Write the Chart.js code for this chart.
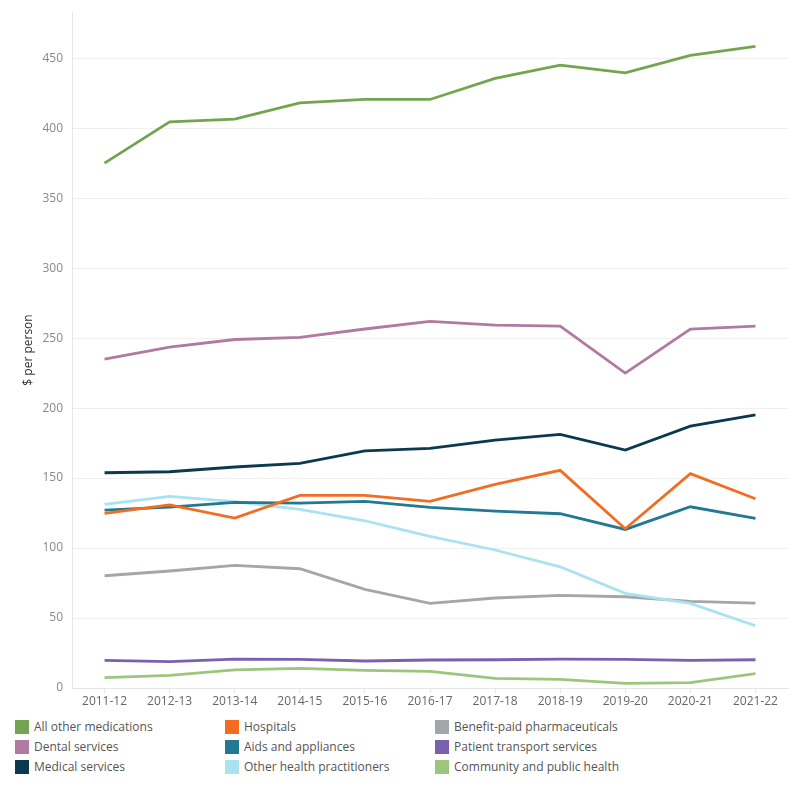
<!DOCTYPE html>
<html>
<head>
<meta charset="utf-8">
<script src="https://cdn.jsdelivr.net/npm/chart.js@4.4.0/dist/chart.umd.min.js"></script>
<style>
  body { margin: 0; background: #fff; font-family: "Open Sans", sans-serif; }
  #wrap { position: relative; width: 800px; height: 800px; }
  #legend { position: absolute; left: 0; top: 720px; width: 800px; }
  .item { position: absolute; height: 14px; font-size: 12px; color: #555; line-height: 14px; white-space: nowrap; }
  .box { display: inline-block; width: 14px; height: 14px; vertical-align: top; margin-right: 5px; }
</style>
</head>
<body>
<div id="wrap">
  <canvas id="chart" width="800" height="712"></canvas>
  <div id="legend"></div>
</div>
<script>
// Données
const years = ['2011-12', '2012-13', '2013-14', '2014-15', '2015-16', '2016-17', '2017-18', '2018-19', '2019-20', '2020-21', '2021-22'];

const allOtherMedications = [375, 404.5, 406.5, 418, 420.5, 420.5, 435.5, 445, 439.5, 452, 458.5];
const dentalServices = [235, 243.5, 249, 250.5, 256.5, 262, 259.3, 258.6, 225, 256.4, 258.6];
const medicalServices = [153.8, 154.5, 157.9, 160.5, 169.5, 171.2, 177.1, 181.2, 170, 187.1, 195.2];
const hospitals = [124.8, 130.9, 121.4, 137.6, 137.6, 133.3, 145.5, 155.5, 113.8, 153.1, 135.2];
const aidsAppliances = [127.1, 129.3, 132.6, 132.1, 133.3, 129, 126.4, 124.5, 113.3, 129.5, 121.2];
const otherHealth = [131.2, 136.9, 133.1, 127.6, 119.5, 108.3, 98.6, 86.6, 67.6, 60.5, 44.5];
const benefitPharma = [80.2, 83.6, 87.6, 85.2, 70.5, 60.5, 64.3, 66.2, 65.2, 61.9, 60.7];
const patientTransport = [19.8, 18.8, 20.7, 20.5, 19.3, 20, 20.2, 20.7, 20.5, 19.8, 20.2];
const communityHealth = [7.4, 9.0, 12.9, 14.0, 12.6, 11.9, 6.9, 6.2, 3.3, 3.8, 10.2];

const yTicks = [0, 50, 100, 150, 200, 250, 300, 350, 400, 450];

// Séries dans l'ordre de la légende (colonne par colonne)
const series = [
    { label: 'All other medications', data: allOtherMedications, color: '#73a550' },
    { label: 'Dental services', data: dentalServices, color: '#b07aa1' },
    { label: 'Medical services', data: medicalServices, color: '#0b3a4f' },
    { label: 'Hospitals', data: hospitals, color: '#f26d21' },
    { label: 'Aids and appliances', data: aidsAppliances, color: '#237892' },
    { label: 'Other health practitioners', data: otherHealth, color: '#a8e3ef' },
    { label: 'Benefit-paid pharmaceuticals', data: benefitPharma, color: '#a3a7aa' },
    { label: 'Patient transport services', data: patientTransport, color: '#7b5fb0' },
    { label: 'Community and public health', data: communityHealth, color: '#9dc67d' }
];

const ctx = document.getElementById('chart').getContext('2d');
const myChart = new Chart(ctx, {
    type: 'line',
    data: {
        labels: years,
        datasets: series.map(s => ({
            label: s.label,
            data: s.data,
            borderColor: s.color,
            backgroundColor: s.color,
            borderWidth: 2.8,
            pointRadius: 0,
            tension: 0,
            fill: false
        }))
    },
    options: {
        responsive: false,
        animation: false,
        layout: { padding: { top: 12, right: 12, left: 0, bottom: 0 } },
        plugins: {
            legend: { display: false },
            tooltip: { enabled: false }
        },
        scales: {
            x: {
                offset: true,
                grid: { drawOnChartArea: false, drawTicks: true, tickLength: 5, color: '#e6e6e6' },
                border: { display: true, color: '#e6e6e6' },
                ticks: { color: '#666', padding: 1, maxRotation: 0, font: { family: 'Open Sans', size: 12 } },
                afterFit: function (scale) { scale.height = 24; }
            },
            y: {
                min: 0,
                max: 483,
                grid: { color: '#efefef', drawTicks: false },
                border: { display: true, color: '#e6e6e6' },
                ticks: {
                    stepSize: 50,
                    includeBounds: false,
                    padding: 9,
                    color: '#888',
                    font: { family: 'Open Sans', size: 12 }
                },
                afterBuildTicks: function (scale) {
                    scale.ticks = yTicks.map(v => ({ value: v }));
                },
                title: {
                    display: true,
                    text: '$ per person',
                    color: '#333',
                    padding: { top: 21, bottom: 0 },
                    font: { family: 'Open Sans', size: 12 }
                },
                afterFit: function (scale) {
                    scale.width = 72;
                    scale.paddingTop = 0;
                    scale.paddingBottom = 0;
                }
            }
        }
    }
});

// Légende en HTML, trois colonnes
const legend = document.getElementById('legend');
const colLeft = [15, 225, 435];
series.forEach(function (s, i) {
    const col = Math.floor(i / 3);
    const row = i % 3;
    const div = document.createElement('div');
    div.className = 'item';
    div.style.left = colLeft[col] + 'px';
    div.style.top = (row * 20) + 'px';
    div.innerHTML = '<span class="box" style="background:' + s.color + '"></span>' + s.label;
    legend.appendChild(div);
});
</script>
</body>
</html>
